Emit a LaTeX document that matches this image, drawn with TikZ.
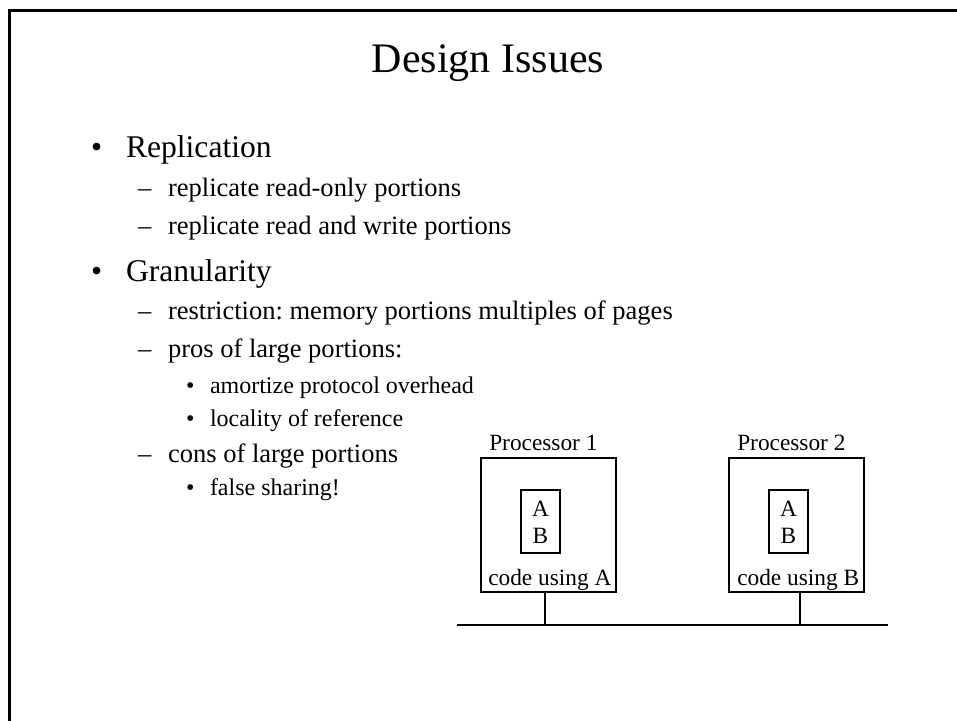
\documentclass[tikz,border=0pt]{standalone}
\usepackage{fontspec}
\setmainfont{Liberation Serif}
\frenchspacing
\begin{document}
\begin{tikzpicture}[x=0.75pt,y=-0.75pt,
  txt/.style={inner sep=0pt,outer sep=0pt,anchor=base west},
  titletxt/.style={inner sep=0pt,anchor=base,font=\fontsize{31.5}{36}\selectfont},
  lvlone/.style={txt,font=\fontsize{23.7}{28}\selectfont},
  lvltwo/.style={txt,font=\fontsize{19.9}{24}\selectfont},
  lvlthree/.style={txt,font=\fontsize{18}{21}\selectfont},
  diag/.style={inner sep=0pt,font=\fontsize{17.5}{21}\selectfont},
  cpu/.style={draw,line width=0.9pt,minimum width=101.25pt,minimum height=100.5pt,inner sep=0pt},
  mem/.style={draw,line width=0.9pt,minimum width=29.25pt,minimum height=47.25pt,inner sep=0pt},
  wire/.style={line width=0.8pt},
  busline/.style={line width=1.1pt}]
\useasboundingbox (0,0) rectangle (957,721);

% slide frame (open to the right and bottom)
\draw[line width=1.9pt] (9.5,730) -- (9.5,10.5) -- (965,10.5);

% title
\node[titletxt] (title) at (488,72) {Design Issues};

% bullet list
\node[lvlone] (b1) at (91,157) {•};
\node[lvlone] (t1) at (126,157) {Replication};
\node[lvltwo] (d11) at (138,196) {–};
\node[lvltwo] (t11) at (168,196) {replicate read-only portions};
\node[lvltwo] (d12) at (138,234) {–};
\node[lvltwo] (t12) at (168,234) {replicate read and write portions};

\node[lvlone] (b2) at (91,281) {•};
\node[lvlone] (t2) at (126,281) {Granularity};
\node[lvltwo] (d21) at (138,319) {–};
\node[lvltwo] (t21) at (168,319) {restriction: memory portions multiples of pages};
\node[lvltwo] (d22) at (138,357) {–};
\node[lvltwo] (t22) at (168,357) {pros of large portions:};
\node[lvlthree] (b221) at (186,393) {•};
\node[lvlthree] (t221) at (210,393) {amortize protocol overhead};
\node[lvlthree] (b222) at (186,426) {•};
\node[lvlthree] (t222) at (210,426) {locality of reference};
\node[lvltwo] (d23) at (138,462) {–};
\node[lvltwo] (t23) at (168,462) {cons of large portions};
\node[lvlthree] (b231) at (186,495) {•};
\node[lvlthree] (t231) at (210,495) {false sharing!};

% two processors on a shared bus
\node[cpu] (p1) at (548.5,525) {};
\node[cpu] (p2) at (796.5,525) {};
\node[diag,anchor=base west] (p1lab) at (489,450) {Processor 1};
\node[diag,anchor=base west] (p2lab) at (737,450) {Processor 2};

\node[mem] (m1) at (540.5,521.5) {};
\node[mem] (m2) at (788.5,521.5) {};
\node[diag,anchor=base] (m1a) at (540.5,516) {A};
\node[diag,anchor=base] (m1b) at (540.5,543) {B};
\node[diag,anchor=base] (m2a) at (788.5,516) {A};
\node[diag,anchor=base] (m2b) at (788.5,543) {B};

\node[diag,anchor=base west] (c1) at (488,585) {code using A};
\node[diag,anchor=base west] (c2) at (737,585) {code using B};

\coordinate (busL) at (457,625);
\coordinate (busR) at (888,625);
\coordinate (tap1) at (545,625);
\coordinate (tap2) at (800,625);
\draw[busline] (busL) -- (busR);
\draw[wire] (p1.south -| tap1) -- (tap1);
\draw[wire] (p2.south -| tap2) -- (tap2);
\end{tikzpicture}
\end{document}
